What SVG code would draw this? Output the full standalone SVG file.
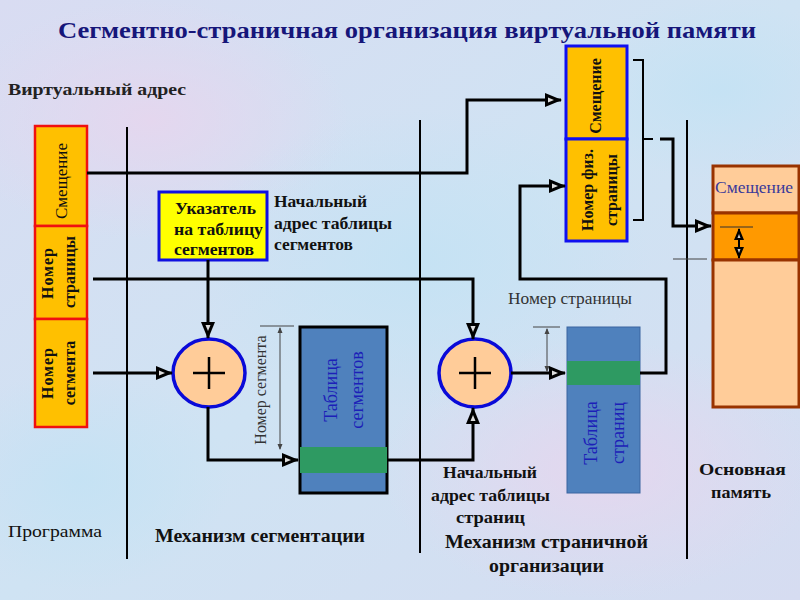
<svg xmlns="http://www.w3.org/2000/svg" width="800" height="600" viewBox="0 0 800 600">
<defs>
<linearGradient id="bg" x1="0" y1="0" x2="1" y2="1">
<stop offset="0" stop-color="#d9dcf2"/>
<stop offset="0.5" stop-color="#cfe3f3"/>
<stop offset="1" stop-color="#d6dcf1"/>
</linearGradient>
<radialGradient id="pk" cx="0.5" cy="0.5" r="0.5">
<stop offset="0" stop-color="#e6d6ee" stop-opacity="0.9"/>
<stop offset="1" stop-color="#e6d6ee" stop-opacity="0"/>
</radialGradient>
<radialGradient id="lb" cx="0.5" cy="0.5" r="0.5">
<stop offset="0" stop-color="#c4e2f4" stop-opacity="0.9"/>
<stop offset="1" stop-color="#c4e2f4" stop-opacity="0"/>
</radialGradient>
<marker id="ah" markerUnits="userSpaceOnUse" markerWidth="17" markerHeight="14" refX="16" refY="7" orient="auto">
<path d="M0,0 L17,7 L0,14 z" fill="#000"/>
<path d="M3,4.5 L9,7 L3,9.5 z" fill="#ddd"/>
</marker>
<marker id="sa" markerUnits="userSpaceOnUse" markerWidth="6" markerHeight="6" refX="5" refY="3" orient="auto-start-reverse">
<path d="M0,0.5 L6,3 L0,5.5 z" fill="#444"/>
</marker>
<marker id="da" markerUnits="userSpaceOnUse" markerWidth="12" markerHeight="10" refX="11" refY="5" orient="auto-start-reverse">
<path d="M0,0 L12,5 L0,10 z" fill="#000"/>
<path d="M2,3.5 L6,5 L2,6.5 z" fill="#ccc"/>
</marker>
</defs>
<style>
.t{font-family:"Liberation Serif","Times New Roman",serif;fill:#111;}
.b{font-weight:bold;}
.conn{fill:none;stroke:#000;stroke-width:3;}
.div{stroke:#000;stroke-width:2;}
.dim{stroke:#444;stroke-width:1;fill:none;}
.add{fill:#ffcc99;stroke:#0a0ad8;stroke-width:3.5;}
.plus{stroke:#000;stroke-width:2.5;}
.va{fill:#ffc000;stroke:#f01010;stroke-width:2.5;}
.pa{fill:#ffc000;stroke:#1010f0;stroke-width:3;}
.tb{fill:#4f81bd;}
.gr{fill:#2e9a62;}
.tbl{font-family:"Liberation Serif","Times New Roman",serif;fill:#1c20b8;font-size:18px;}
</style>
<rect width="800" height="600" fill="url(#bg)"/>
<ellipse cx="150" cy="120" rx="200" ry="120" fill="url(#pk)"/>
<ellipse cx="600" cy="470" rx="220" ry="130" fill="url(#pk)"/>
<ellipse cx="420" cy="260" rx="230" ry="150" fill="url(#lb)"/>
<ellipse cx="80" cy="480" rx="150" ry="110" fill="url(#lb)"/>
<ellipse cx="720" cy="90" rx="150" ry="90" fill="url(#lb)"/>

<text class="t b" x="407" y="38" font-size="24" text-anchor="middle" style="fill:#16167a" textLength="698" lengthAdjust="spacingAndGlyphs">Сегментно-страничная организация виртуальной памяти</text>
<text class="t b" x="8" y="95" font-size="17" style="fill:#222" textLength="178" lengthAdjust="spacingAndGlyphs">Виртуальный адрес</text>

<g id="dividers">
<line class="div" x1="127" y1="127" x2="127" y2="559"/>
<line class="div" x1="420" y1="120" x2="420" y2="553"/>
<line class="div" x1="687" y1="120" x2="687" y2="559"/>
</g>

<g id="virtual-address">
<rect class="va" x="35" y="126" width="52" height="100"/>
<rect class="va" x="35" y="226" width="52" height="93"/>
<rect class="va" x="35" y="319" width="52" height="108"/>
<text class="t" font-size="17" text-anchor="middle" transform="translate(67,181) rotate(-90)">Смещение</text>
<text class="t b" font-size="16" text-anchor="middle" letter-spacing="1" transform="translate(53,273) rotate(-90)">Номер</text>
<text class="t b" font-size="16" text-anchor="middle" transform="translate(75,272) rotate(-90)">страницы</text>
<text class="t b" font-size="16" text-anchor="middle" letter-spacing="1" transform="translate(53,373) rotate(-90)">Номер</text>
<text class="t b" font-size="16" text-anchor="middle" transform="translate(75,373) rotate(-90)">сегмента</text>
</g>

<g id="pointer">
<rect x="159" y="192" width="108" height="68" fill="#ffff00" stroke="#1010e0" stroke-width="3"/>
<text class="t b" font-size="16" x="175" y="214" textLength="81" lengthAdjust="spacingAndGlyphs">Указатель</text>
<text class="t b" font-size="16" x="174" y="235" textLength="89" lengthAdjust="spacingAndGlyphs">на таблицу</text>
<text class="t b" font-size="16" x="174" y="255" textLength="80" lengthAdjust="spacingAndGlyphs">сегментов</text>
</g>
<g id="seg-start-label">
<text class="t b" font-size="16" x="274" y="207" textLength="93" lengthAdjust="spacingAndGlyphs">Начальный</text>
<text class="t b" font-size="16" x="274" y="229" textLength="118" lengthAdjust="spacingAndGlyphs">адрес таблицы</text>
<text class="t b" font-size="16" x="274" y="250" textLength="79" lengthAdjust="spacingAndGlyphs">сегментов</text>
</g>

<g id="adder1">
<ellipse class="add" cx="209" cy="373" rx="36" ry="34"/>
<line class="plus" x1="193" y1="373" x2="225" y2="373"/>
<line class="plus" x1="209" y1="357" x2="209" y2="389"/>
</g>

<g id="segment-table">
<rect class="tb" x="300" y="327" width="87" height="166" stroke="#000" stroke-width="3"/>
<rect class="gr" x="300" y="447" width="87" height="26"/>
<text class="tbl" text-anchor="middle" transform="translate(337,390) rotate(-90)">Таблица</text>
<text class="tbl" text-anchor="middle" transform="translate(363,390) rotate(-90)">сегментов</text>
</g>
<g id="seg-dim">
<line class="dim" x1="260" y1="326" x2="294" y2="326"/>
<line class="dim" x1="280" y1="328" x2="280" y2="449" marker-start="url(#sa)" marker-end="url(#sa)"/>
<text class="t" font-size="16" style="fill:#333" text-anchor="middle" transform="translate(266,390) rotate(-90)">Номер сегмента</text>
</g>

<g id="adder2">
<ellipse class="add" cx="475" cy="373" rx="36" ry="34"/>
<line class="plus" x1="459" y1="373" x2="491" y2="373"/>
<line class="plus" x1="475" y1="357" x2="475" y2="389"/>
</g>

<g id="page-table">
<rect class="tb" x="567" y="327" width="73" height="166" stroke="#3a64a0" stroke-width="1"/>
<rect class="gr" x="567" y="361" width="73" height="24"/>
<text class="tbl" text-anchor="middle" transform="translate(597,433) rotate(-90)">Таблица</text>
<text class="tbl" text-anchor="middle" transform="translate(624,433) rotate(-90)">страниц</text>
</g>
<g id="page-dim">
<text class="t" font-size="17" style="fill:#333" x="508" y="304" textLength="124" lengthAdjust="spacingAndGlyphs">Номер страницы</text>
<line class="dim" x1="533" y1="327" x2="560" y2="327"/>
<line class="dim" x1="547" y1="329" x2="547" y2="371" marker-start="url(#sa)" marker-end="url(#sa)"/>
</g>

<g id="physical-address">
<rect class="pa" x="566" y="46" width="61" height="93"/>
<rect class="pa" x="566" y="139" width="61" height="102"/>
<text class="t b" font-size="16" text-anchor="middle" transform="translate(601,96) rotate(-90)">Смещение</text>
<text class="t b" font-size="16" text-anchor="middle" transform="translate(593,190) rotate(-90)">Номер физ.</text>
<text class="t b" font-size="16" text-anchor="middle" transform="translate(617,190) rotate(-90)">страницы</text>
<path d="M633,60 H643 V220 H633 M643,139 H653" fill="none" stroke="#000" stroke-width="2"/>
</g>

<g id="memory">
<rect x="713" y="166" width="86" height="47" fill="#ffcc99" stroke="#993300" stroke-width="3"/>
<rect x="713" y="213" width="86" height="47" fill="#ff9900" stroke="#993300" stroke-width="3"/>
<rect x="713" y="260" width="86" height="147" fill="#ffcc99" stroke="#993300" stroke-width="3"/>
<text class="t" font-size="17" style="fill:#3a3a9a" x="715" y="193" textLength="78" lengthAdjust="spacingAndGlyphs">Смещение</text>
<line x1="720" y1="227" x2="753" y2="227" stroke="#333" stroke-width="1.2"/>
<line x1="739" y1="229" x2="739" y2="258" stroke="#000" stroke-width="2" marker-start="url(#da)" marker-end="url(#da)"/>
<line x1="673" y1="259" x2="707" y2="259" stroke="#444" stroke-width="1.2"/>
</g>

<g id="connectors">
<path class="conn" d="M87,173 H467 V100 H561" marker-end="url(#ah)"/>
<path class="conn" d="M93,279 H473 V339" marker-end="url(#ah)"/>
<path class="conn" d="M93,373 H172" marker-end="url(#ah)"/>
<path class="conn" d="M208,260 V338" marker-end="url(#ah)"/>
<path class="conn" d="M208,407 V460 H298" marker-end="url(#ah)"/>
<path class="conn" d="M387,460 H473 V408" marker-end="url(#ah)"/>
<path class="conn" d="M511,373 H565" marker-end="url(#ah)"/>
<path class="conn" d="M640,373 H666 V279 H520 V186 H565" marker-end="url(#ah)"/>
<path class="conn" d="M660,139 H673 V226 H711" marker-end="url(#ah)"/>
</g>

<g id="labels">
<text class="t" font-size="17" x="8" y="537" textLength="94" lengthAdjust="spacingAndGlyphs">Программа</text>
<text class="t b" font-size="18" x="155" y="542" textLength="210" lengthAdjust="spacingAndGlyphs">Механизм сегментации</text>
<text class="t b" font-size="17" x="443" y="478" textLength="94" lengthAdjust="spacingAndGlyphs">Начальный</text>
<text class="t b" font-size="17" x="431" y="501" textLength="119" lengthAdjust="spacingAndGlyphs">адрес таблицы</text>
<text class="t b" font-size="17" x="456" y="523" textLength="69" lengthAdjust="spacingAndGlyphs">страниц</text>
<text class="t b" font-size="18" x="445" y="548" textLength="203" lengthAdjust="spacingAndGlyphs">Механизм страничной</text>
<text class="t b" font-size="18" x="489" y="572" textLength="115" lengthAdjust="spacingAndGlyphs">организации</text>
<text class="t b" font-size="17" x="699" y="475" textLength="87" lengthAdjust="spacingAndGlyphs">Основная</text>
<text class="t b" font-size="17" x="711" y="498" textLength="60" lengthAdjust="spacingAndGlyphs">память</text>
</g>
</svg>
